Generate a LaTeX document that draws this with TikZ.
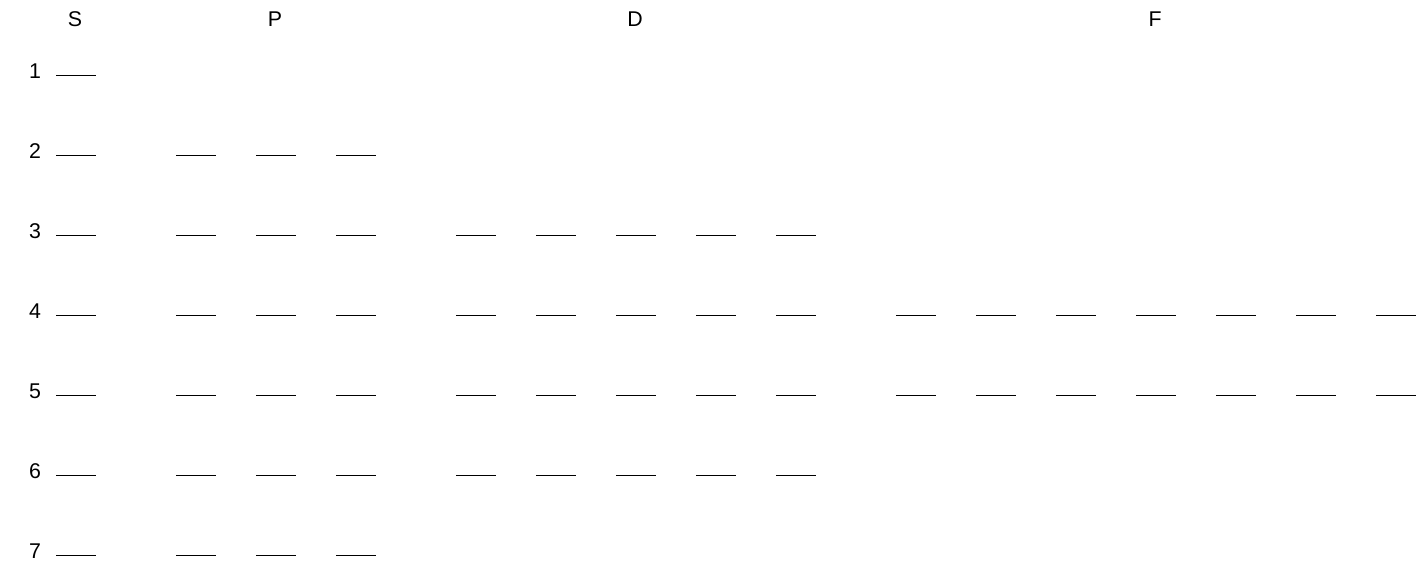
\documentclass[tikz,border=0pt]{standalone}
\usepackage{fontspec}
\setmainfont{Liberation Sans}
\usetikzlibrary{positioning}

\begin{document}
\begin{tikzpicture}[
  x=0.75pt, y=-0.75pt,
  head/.style={inner sep=0pt, font=\fontsize{16}{19}\selectfont},
  lvl/.style={inner sep=0pt, font=\fontsize{16}{19}\selectfont},
  orb/.style={line width=0.75pt}
]
  \useasboundingbox (0,0) rectangle (1423,572);

  % Subshell headings
  \node[head] (hs) at (75, 19) {S};
  \node[head] (hp) at (275, 19) {P};
  \node[head] (hd) at (635, 19) {D};
  \node[head] (hf) at (1155, 19) {F};

  % Shell numbers
  \foreach \n in {1,...,7} {
    \node[lvl] (n\n) at (35, {71.5+80*(\n-1)}) {\n};
  }

  % S orbitals
  \foreach \n in {1,...,7} {
    \draw[orb] (56, {75.5+80*(\n-1)}) -- ++(40,0);
  }
  % P orbitals
  \foreach \n in {2,...,7} {
    \foreach \k in {0,1,2} {
      \draw[orb] ({176+80*\k}, {75.5+80*(\n-1)}) -- ++(40,0);
    }
  }
  % D orbitals
  \foreach \n in {3,...,6} {
    \foreach \k in {0,...,4} {
      \draw[orb] ({456+80*\k}, {75.5+80*(\n-1)}) -- ++(40,0);
    }
  }
  % F orbitals
  \foreach \n in {4,5} {
    \foreach \k in {0,...,6} {
      \draw[orb] ({896+80*\k}, {75.5+80*(\n-1)}) -- ++(40,0);
    }
  }
\end{tikzpicture}
\end{document}
